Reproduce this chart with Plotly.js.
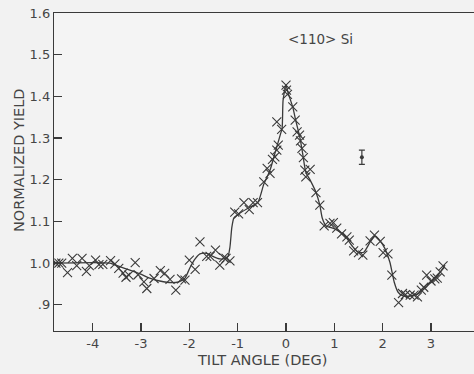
<!DOCTYPE html>
<html>
<head>
<meta charset="utf-8">
<script src="https://cdn.plot.ly/plotly-3.0.1.min.js"></script>
<style>html,body{margin:0;padding:0;background:#f2f2f2;}#chart{width:474px;height:374px;}</style>
</head>
<body>
<div id="chart"></div>
<script>
// measured points (tilt angle in degrees, normalized yield)
var tiltAngle = [-4.76,-4.70,-4.64,-4.52,-4.42,-4.33,-4.22,-4.13,-4.07,-3.94,-3.87,-3.79,-3.63,-3.54,-3.46,-3.37,-3.31,-3.25,-3.12,-3.06,-2.94,-2.88,-2.73,-2.60,-2.51,-2.40,-2.28,-2.16,-2.09,-2.00,-1.88,-1.78,-1.64,-1.57,-1.46,-1.37,-1.29,-1.24,-1.16,-1.06,-0.98,-0.87,-0.76,-0.68,-0.59,-0.46,-0.39,-0.33,-0.28,-0.23,-0.19,-0.16,-0.19,-0.09,0.00,0.01,0.03,0.14,0.19,0.23,0.28,0.30,0.33,0.36,0.39,0.50,0.41,0.62,0.70,0.79,0.91,0.98,1.05,1.15,1.26,1.31,1.40,1.50,1.59,1.74,1.83,1.95,2.01,2.11,2.19,2.33,2.41,2.47,2.57,2.65,2.72,2.80,2.85,2.91,3.00,3.08,3.13,3.19,3.25];
var yieldVals = [1.000,1.000,1.000,0.977,1.011,0.994,1.011,0.980,0.994,1.007,0.996,0.997,1.006,0.998,0.987,0.976,0.966,0.971,1.001,0.972,0.955,0.939,0.963,0.982,0.975,0.961,0.935,0.962,0.959,1.007,0.985,1.051,1.016,1.016,1.031,0.995,1.013,1.011,1.005,1.122,1.118,1.145,1.128,1.145,1.145,1.195,1.227,1.215,1.249,1.255,1.271,1.283,1.339,1.321,1.427,1.415,1.405,1.375,1.343,1.315,1.307,1.293,1.275,1.253,1.223,1.225,1.207,1.169,1.139,1.089,1.095,1.097,1.084,1.070,1.063,1.055,1.029,1.025,1.019,1.053,1.067,1.052,1.025,1.022,0.971,0.905,0.927,0.924,0.923,0.923,0.919,0.935,0.942,0.971,0.957,0.962,0.964,0.979,0.993];

// hand-drawn smooth curve through the data
var curveX = [-4.80,-3.64,-3.48,-3.23,-3.02,-2.82,-2.61,-2.36,-2.22,-2.09,-1.99,-1.88,-1.78,-1.64,-1.51,-1.37,-1.26,-1.20,-1.16,-1.12,-1.08,-1.01,-0.95,-0.75,-0.58,-0.46,-0.33,-0.21,-0.12,-0.08,-0.06,0.00,0.04,0.14,0.21,0.29,0.35,0.41,0.50,0.62,0.70,0.75,0.83,1.01,1.22,1.37,1.49,1.61,1.74,1.84,1.95,2.05,2.15,2.24,2.32,2.42,2.57,2.73,2.88,3.02,3.19,3.29];
var curveY = [1.000,1.000,0.993,0.983,0.974,0.964,0.957,0.953,0.955,0.964,0.988,1.010,1.022,1.023,1.016,1.010,1.011,1.016,1.038,1.086,1.108,1.115,1.120,1.134,1.146,1.189,1.223,1.271,1.307,1.324,1.391,1.427,1.410,1.374,1.338,1.300,1.259,1.218,1.199,1.170,1.139,1.108,1.089,1.082,1.065,1.041,1.026,1.026,1.050,1.065,1.053,1.034,1.002,0.954,0.930,0.921,0.921,0.926,0.940,0.957,0.978,0.995];

// representative error bar
var errX = [1.57];
var errY = [1.254];
var errSize = [0.017];

var xTicks = [-4,-3,-2,-1,0,1,2,3];
var xTickText = ['-4','-3','-2','-1','0','1','2','3'];
var yTicks = [0.9,1.0,1.1,1.2,1.3,1.4,1.5,1.6];
var yTickText = ['.9','1.0','1.1','1.2','1.3','1.4','1.5','1.6'];

var ink = '#3a3a3a';
var fam = 'DejaVu Sans, Liberation Sans, sans-serif';
var fnt = {family: fam, size: 13, color: '#454545'};

var traces = [
  {x: curveX, y: curveY, mode: 'lines', line: {color: ink, width: 1.3, shape: 'spline', smoothing: 0.6}, hoverinfo: 'skip'},
  {x: tiltAngle, y: yieldVals, mode: 'markers', marker: {symbol: 'x-thin', size: 9, color: ink, line: {color: ink, width: 1.1}}},
  {x: errX, y: errY, mode: 'markers', marker: {symbol: 'circle', size: 4, color: ink},
   error_y: {type: 'data', array: errSize, visible: true, color: ink, thickness: 1.2, width: 3}}
];

var layout = {
  width: 474, height: 374,
  margin: {l: 54, r: 0, t: 13, b: 43},
  paper_bgcolor: '#f2f2f2', plot_bgcolor: '#f4f4f4',
  showlegend: false,
  font: fnt,
  xaxis: {range: [-4.80, 3.89], tickvals: xTicks, ticktext: xTickText, ticks: 'inside', ticklen: 8, tickcolor: ink, tickwidth: 1.2,
          showline: true, linecolor: ink, linewidth: 1.2, mirror: true, showgrid: false, zeroline: false, tickfont: fnt},
  yaxis: {range: [0.837, 1.6], tickvals: yTicks, ticktext: yTickText, ticks: 'inside', ticklen: 8, tickcolor: ink, tickwidth: 1.2,
          showline: true, linecolor: ink, linewidth: 1.2, mirror: false, showgrid: false, zeroline: false, tickfont: fnt},
  annotations: [
    {text: 'NORMALIZED YIELD', xref: 'paper', yref: 'paper', x: -0.083, y: 0.538, textangle: -90, showarrow: false,
     font: {family: fam, size: 14.5, color: '#454545'}, xanchor: 'center', yanchor: 'middle'},
    {text: 'TILT ANGLE (DEG)', xref: 'paper', yref: 'paper', x: 0.495, y: -0.091, showarrow: false,
     font: {family: fam, size: 14.5, color: '#454545'}, xanchor: 'center', yanchor: 'middle'},
    {text: '&lt;110&gt; Si', xref: 'x', yref: 'y', x: 0.72, y: 1.537, showarrow: false,
     font: {family: fam, size: 13.5, color: '#454545'}, xanchor: 'center', yanchor: 'middle'}
  ]
};

Plotly.newPlot('chart', traces, layout, {displayModeBar: false, staticPlot: true});
</script>
</body>
</html>
